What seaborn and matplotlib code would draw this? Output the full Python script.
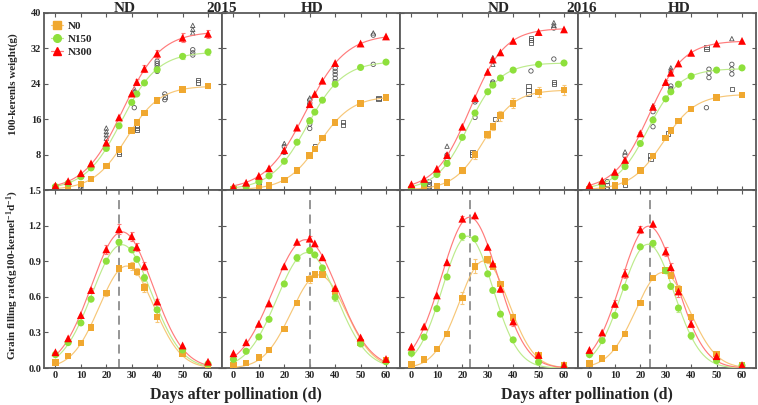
import numpy as np
import pandas as pd
import matplotlib
matplotlib.use("Agg")
import matplotlib.pyplot as plt
from matplotlib.lines import Line2D
import seaborn as sns

# ---------------- data ----------------
days = [0, 5, 10, 14, 20, 25, 30, 32, 35, 40, 50, 60]
treatments = ["N0", "N150", "N300"]
panel_keys = ["nd15", "hd15", "nd16", "hd16"]
years = ["2015", "2016"]

# 100-kernel weight (g)
kw_nd15_n0 = [0.3, 0.5, 1.35, 2.5, 5.4, 9.2, 13.5, 15.2, 17.4, 20.2, 22.7, 23.5]
kw_nd15_n150 = [0.75, 1.5, 3.0, 5.0, 9.4, 14.5, 19.8, 21.7, 24.2, 27.2, 30.2, 31.2]
kw_nd15_n300 = [1.0, 2.0, 3.8, 6.0, 10.7, 16.4, 21.8, 24.4, 27.4, 30.8, 34.4, 35.3]
kw_hd15_n0 = [0.15, 0.3, 0.5, 1.0, 2.3, 4.4, 7.8, 9.25, 11.8, 15.3, 19.6, 20.9]
kw_hd15_n150 = [0.3, 0.75, 1.9, 3.2, 6.5, 10.8, 15.6, 17.6, 20.3, 23.9, 27.7, 28.9]
kw_hd15_n300 = [0.75, 1.65, 3.2, 4.9, 9.0, 14.1, 19.4, 21.7, 24.7, 28.7, 33.1, 34.7]
kw_nd16_n0 = [0.2, 0.3, 0.9, 1.65, 4.4, 8.0, 12.6, 14.3, 16.8, 19.6, 22.1, 22.6]
kw_nd16_n150 = [0.4, 1.5, 3.5, 6.0, 11.9, 17.4, 22.2, 23.7, 25.3, 27.1, 28.4, 28.7]
kw_nd16_n300 = [1.3, 2.5, 4.8, 7.9, 14.3, 20.8, 26.7, 29.5, 31.1, 33.7, 35.7, 36.3]
kw_hd16_n0 = [0.15, 0.3, 1.0, 1.9, 4.4, 7.7, 11.8, 13.4, 15.6, 18.3, 20.9, 21.5]
kw_hd16_n150 = [0.3, 1.4, 3.0, 5.3, 10.5, 15.8, 20.6, 22.2, 23.9, 25.7, 27.1, 27.6]
kw_hd16_n300 = [1.1, 2.1, 4.1, 6.8, 12.8, 18.8, 24.4, 26.5, 28.6, 31.0, 33.1, 33.7]

# standard errors of the weight (visible error bars only)
kwe_nd15_n0 = [0, 0, 0, 0, 0, 0, 0, 0, 0, 0, 0.3, 0.4]
kwe_nd15_n150 = [0, 0, 0, 0, 0, 0, 0, 0, 0, 0, 0.6, 0.75]
kwe_nd15_n300 = [0, 0, 0, 0, 0, 0, 0.4, 0.6, 0.75, 0.9, 1.0, 0.9]
kwe_hd15_n0 = [0] * 12
kwe_hd15_n150 = [0] * 12
kwe_hd15_n300 = [0, 0, 0, 0, 0, 0, 0.4, 0, 0, 0, 0, 0]
kwe_nd16_n0 = [0, 0, 0, 0, 0.5, 0.9, 0.75, 0.75, 1.1, 1.1, 1.1, 1.1]
kwe_nd16_n150 = [0] * 12
kwe_nd16_n300 = [0] * 12
kwe_hd16_n0 = [0] * 12
kwe_hd16_n150 = [0] * 12
kwe_hd16_n300 = [0, 0, 0, 0, 0.4, 0.5, 0.5, 0.5, 0, 0, 0, 0]

# grain filling rate (g 100-kernel-1 d-1)
gr_nd15_n0 = [0.048, 0.10, 0.21, 0.34, 0.63, 0.84, 0.86, 0.81, 0.68, 0.43, 0.124, 0.025]
gr_nd15_n150 = [0.113, 0.214, 0.38, 0.58, 0.90, 1.06, 0.996, 0.916, 0.76, 0.49, 0.152, 0.034]
gr_nd15_n300 = [0.133, 0.25, 0.446, 0.657, 1.0, 1.17, 1.11, 1.02, 0.86, 0.56, 0.19, 0.053]
gr_hd15_n0 = [0.02, 0.042, 0.087, 0.152, 0.33, 0.547, 0.75, 0.79, 0.79, 0.645, 0.214, 0.062]
gr_hd15_n150 = [0.073, 0.141, 0.262, 0.41, 0.708, 0.928, 0.99, 0.953, 0.843, 0.595, 0.203, 0.053]
gr_hd15_n300 = [0.124, 0.217, 0.372, 0.544, 0.857, 1.063, 1.09, 1.05, 0.933, 0.674, 0.257, 0.076]
gr_nd16_n0 = [0.031, 0.073, 0.161, 0.285, 0.59, 0.857, 0.914, 0.857, 0.708, 0.426, 0.104, 0.02]
gr_nd16_n150 = [0.124, 0.26, 0.50, 0.767, 1.11, 1.089, 0.793, 0.654, 0.454, 0.237, 0.051, 0.006]
gr_nd16_n300 = [0.18, 0.35, 0.612, 0.891, 1.258, 1.286, 1.021, 0.88, 0.668, 0.392, 0.11, 0.025]
gr_hd16_n0 = [0.04, 0.082, 0.17, 0.285, 0.547, 0.759, 0.82, 0.778, 0.666, 0.429, 0.118, 0.025]
gr_hd16_n150 = [0.113, 0.231, 0.443, 0.68, 1.021, 1.05, 0.82, 0.688, 0.505, 0.271, 0.062, 0.02]
gr_hd16_n300 = [0.152, 0.299, 0.541, 0.795, 1.168, 1.215, 0.981, 0.849, 0.645, 0.372, 0.10, 0.025]

# standard errors of the rate (visible error bars only)
gre_nd15_n0 = [0, 0, 0, 0, 0.02, 0.02, 0.03, 0.03, 0.04, 0.04, 0.02, 0]
gre_nd15_n150 = [0, 0, 0, 0, 0, 0.02, 0.02, 0, 0.03, 0.02, 0, 0]
gre_nd15_n300 = [0, 0, 0, 0.02, 0.04, 0.04, 0.04, 0.03, 0.03, 0.02, 0, 0]
gre_hd15_n0 = [0, 0, 0, 0, 0, 0, 0.03, 0.02, 0, 0, 0, 0]
gre_hd15_n150 = [0, 0, 0, 0, 0, 0.03, 0, 0, 0, 0.03, 0.02, 0]
gre_hd15_n300 = [0, 0, 0, 0, 0, 0, 0.02, 0, 0, 0, 0, 0]
gre_nd16_n0 = [0, 0, 0, 0, 0.05, 0.06, 0.03, 0, 0, 0.03, 0, 0]
gre_nd16_n150 = [0, 0, 0, 0.02, 0.03, 0.02, 0, 0, 0, 0, 0, 0]
gre_nd16_n300 = [0, 0, 0, 0, 0.02, 0, 0, 0, 0.03, 0.04, 0, 0]
gre_hd16_n0 = [0, 0, 0, 0, 0, 0, 0, 0, 0.03, 0, 0, 0]
gre_hd16_n150 = [0, 0, 0, 0, 0, 0.03, 0.02, 0.02, 0.03, 0.03, 0, 0]
gre_hd16_n300 = [0, 0, 0.03, 0.04, 0.03, 0, 0.04, 0.04, 0.05, 0.03, 0, 0]

# day of maximum filling rate (dashed lines)
peak_days = [25, 30, 23, 24]

# individual (hollow) observations in the weight panels
obs_nd15_day = [10, 10, 10, 20, 20, 20, 20, 25, 25, 25, 31, 31, 31, 32, 32, 32,
                40, 40, 40, 40, 40, 43, 43, 43, 54, 54, 54, 54, 54, 54, 56, 56]
obs_nd15_val = [0.5, 0.9, 1.4, 14.0, 13.2, 12.5, 11.7, 9.2, 8.7, 8.2, 22.9, 22.3, 18.6, 14.7, 14.1, 13.5,
                29.1, 28.6, 28.1, 27.5, 26.8, 21.7, 21.1, 20.4, 37.2, 36.3, 35.5, 31.7, 31.0, 30.5, 24.8, 24.3]
obs_nd15_mk = ["o", "o", "s", "^", "^", "^", "^", "o", "s", "s", "^", "^", "o", "s", "s", "s",
               "o", "o", "o", "o", "o", "o", "s", "o", "^", "^", "^", "o", "o", "o", "s", "s"]
obs_hd15_day = [10, 10, 10, 20, 20, 20, 25, 30, 30, 30, 30, 30, 30, 32, 32,
                40, 40, 40, 40, 40, 43, 43, 55, 55, 55, 57, 57]
obs_hd15_val = [1.4, 0.9, 0.5, 10.5, 9.8, 8.5, 4.4, 20.8, 20.3, 19.5, 15.8, 14.9, 13.9, 9.8, 9.2,
                27.5, 26.8, 26.1, 25.3, 24.5, 15.3, 14.7, 35.5, 35.0, 28.4, 20.8, 20.5]
obs_hd15_mk = ["s", "o", "o", "^", "o", "o", "s", "^", "o", "o", "o", "o", "o", "s", "s",
               "o", "o", "o", "o", "o", "s", "s", "^", "o", "o", "s", "s"]
obs_nd16_day = [7, 7, 7, 7, 14, 14, 14, 24, 24, 25, 25, 25, 25, 32, 32, 32, 32, 32, 32, 33,
                46, 46, 46, 47, 47, 47, 47, 56, 56, 56, 56, 56, 56]
obs_nd16_val = [1.9, 1.3, 0.75, 0.2, 9.9, 7.9, 7.0, 8.6, 8.0, 20.3, 19.9, 17.4, 16.4, 24.4, 24.1, 23.7,
                29.9, 29.2, 28.4, 16.0, 23.5, 22.6, 21.7, 34.4, 33.9, 33.3, 26.9, 37.8, 37.2, 36.6,
                29.6, 24.4, 23.9]
obs_nd16_mk = ["o", "s", "o", "s", "^", "o", "o", "s", "s", "o", "o", "o", "o", "o", "o", "o",
               "^", "^", "^", "s", "s", "s", "s", "s", "s", "s", "o", "^", "^", "o", "o", "s", "s"]
obs_hd16_day = [7, 7, 7, 7, 14, 14, 14, 14, 14, 24, 24, 25, 25, 25, 25, 31, 32, 32, 32, 32, 32,
                46, 46, 46, 47, 47, 47, 56, 56, 56, 56, 56]
obs_hd16_val = [1.9, 1.1, 0.5, 0.1, 8.6, 7.7, 6.0, 5.3, 1.2, 7.8, 7.0, 19.0, 17.7, 16.0, 14.3, 12.8,
                27.6, 27.1, 23.5, 22.9, 22.6, 18.6, 32.3, 31.8, 27.3, 26.5, 25.4, 34.2, 28.4, 27.3,
                26.2, 22.8]
obs_hd16_mk = ["o", "s", "s", "o", "^", "o", "o", "o", "s", "s", "s", "^", "o", "o", "o", "s",
               "^", "^", "o", "o", "o", "o", "s", "s", "o", "o", "o", "^", "o", "o", "o", "s"]

kw = {"nd15": [kw_nd15_n0, kw_nd15_n150, kw_nd15_n300],
      "hd15": [kw_hd15_n0, kw_hd15_n150, kw_hd15_n300],
      "nd16": [kw_nd16_n0, kw_nd16_n150, kw_nd16_n300],
      "hd16": [kw_hd16_n0, kw_hd16_n150, kw_hd16_n300]}
kwe = {"nd15": [kwe_nd15_n0, kwe_nd15_n150, kwe_nd15_n300],
       "hd15": [kwe_hd15_n0, kwe_hd15_n150, kwe_hd15_n300],
       "nd16": [kwe_nd16_n0, kwe_nd16_n150, kwe_nd16_n300],
       "hd16": [kwe_hd16_n0, kwe_hd16_n150, kwe_hd16_n300]}
gr = {"nd15": [gr_nd15_n0, gr_nd15_n150, gr_nd15_n300],
      "hd15": [gr_hd15_n0, gr_hd15_n150, gr_hd15_n300],
      "nd16": [gr_nd16_n0, gr_nd16_n150, gr_nd16_n300],
      "hd16": [gr_hd16_n0, gr_hd16_n150, gr_hd16_n300]}
gre = {"nd15": [gre_nd15_n0, gre_nd15_n150, gre_nd15_n300],
       "hd15": [gre_hd15_n0, gre_hd15_n150, gre_hd15_n300],
       "nd16": [gre_nd16_n0, gre_nd16_n150, gre_nd16_n300],
       "hd16": [gre_hd16_n0, gre_hd16_n150, gre_hd16_n300]}
obs = {"nd15": (obs_nd15_day, obs_nd15_val, obs_nd15_mk),
       "hd15": (obs_hd15_day, obs_hd15_val, obs_hd15_mk),
       "nd16": (obs_nd16_day, obs_nd16_val, obs_nd16_mk),
       "hd16": (obs_hd16_day, obs_hd16_val, obs_hd16_mk)}

# ---------------- styles ----------------
pt_colors = {"N0": "#F0A830", "N150": "#8EE03C", "N300": "#FF0000"}
ln_colors = {"N0": "#F7C778", "N150": "#BDEB8C", "N300": "#FF7B7B"}
markers = {"N0": "s", "N150": "o", "N300": "^"}
sizes = {"N0": 22, "N150": 26, "N300": 32}
SERIF = "Liberation Serif"
SPINE = "#5a5a5a"


# ---------------- fits ----------------
def logistic_fit(t, w, tt):
    t = np.asarray(t, float)
    w = np.asarray(w, float)
    A = np.linspace(w.max() * 0.98, w.max() * 1.25, 40)[:, None, None, None]
    t0 = np.linspace(10, 45, 106)[None, :, None, None]
    k = np.linspace(0.05, 0.40, 106)[None, None, :, None]
    pred = A / (1 + np.exp(-k * (t - t0)))
    sse = ((pred - w) ** 2).sum(-1)
    i, j, l = np.unravel_index(sse.argmin(), sse.shape)
    a, c, kk = A[i, 0, 0, 0], t0[0, j, 0, 0], k[0, 0, l, 0]
    return a / (1 + np.exp(-kk * (tt - c)))


def gauss_fit(t, r, tt):
    t = np.asarray(t, float)
    r = np.asarray(r, float)
    c2, c1, c0 = np.polyfit(t, np.log(r), 2, w=r)
    return np.exp(c0 + c1 * tt + c2 * tt ** 2)


tt = np.linspace(0, 60, 241)

# ---------------- figure ----------------
sns.set_style("ticks")
plt.rcParams["font.family"] = [SERIF, "DejaVu Serif"]
plt.rcParams["font.weight"] = "bold"
plt.rcParams["axes.labelweight"] = "bold"
plt.rcParams["mathtext.fontset"] = "custom"
plt.rcParams["mathtext.rm"] = SERIF + ":bold"
plt.rcParams["mathtext.bf"] = SERIF + ":bold"
plt.rcParams["mathtext.it"] = SERIF + ":bold"
plt.rcParams["mathtext.default"] = "bf"

W, H = 758, 405
fig = plt.figure(figsize=(W / 100, H / 100), dpi=100)


def rect(x0, y0, x1, y1):
    return [x0 / W, 1 - y1 / H, (x1 - x0) / W, (y1 - y0) / H]


lefts = [44, 222, 400, 578]
cw = 178

for c, key in enumerate(panel_keys):
    ax_t = fig.add_axes(rect(lefts[c], 13, lefts[c] + cw, 190))
    ax_b = fig.add_axes(rect(lefts[c], 190, lefts[c] + cw, 368))

    trcol = [tr for tr in treatments for _ in days]
    top_df = pd.DataFrame({"day": days * 3, "value": sum(kw[key], []),
                           "err": sum(kwe[key], []), "treatment": trcol})
    bot_df = pd.DataFrame({"day": days * 3, "value": sum(gr[key], []),
                           "err": sum(gre[key], []), "treatment": trcol})
    top_fit = pd.DataFrame({
        "day": np.tile(tt, 3),
        "value": np.concatenate([logistic_fit(days, v, tt) for v in kw[key]]),
        "treatment": np.repeat(treatments, len(tt))})
    bot_fit = pd.DataFrame({
        "day": np.tile(tt, 3),
        "value": np.concatenate([gauss_fit(days, v, tt) for v in gr[key]]),
        "treatment": np.repeat(treatments, len(tt))})

    # hollow observations
    od, ov, om = obs[key]
    odf = pd.DataFrame({"day": od, "value": ov, "mk": om})
    for m, sub in odf.groupby("mk"):
        ax_t.scatter(sub["day"], sub["value"], marker=m, s=10, facecolors="none",
                     edgecolors="#555555", linewidths=0.6, zorder=2)

    for ax, fit, pts in ((ax_t, top_fit, top_df), (ax_b, bot_fit, bot_df)):
        sns.lineplot(data=fit, x="day", y="value", hue="treatment", palette=ln_colors,
                     estimator=None, linewidth=0.85, legend=False, ax=ax, zorder=3)
        for tr in treatments:
            sub = pts[(pts["treatment"] == tr) & (pts["err"] > 0)]
            ax.errorbar(sub["day"], sub["value"], yerr=sub["err"], fmt="none",
                        ecolor=ln_colors[tr], elinewidth=0.8, capsize=1.6, capthick=0.8, zorder=3.5)
        for tr in treatments:
            sub = pts[pts["treatment"] == tr]
            sns.scatterplot(data=sub, x="day", y="value", color=pt_colors[tr],
                            marker=markers[tr], s=sizes[tr], edgecolor="none",
                            legend=False, ax=ax, zorder=4)

    ax_b.axvline(peak_days[c], color="#8c8c8c", linestyle=(0, (5, 3)), linewidth=1.3, zorder=1)

    for ax in (ax_t, ax_b):
        ax.set_xlim(-4.5, 65.5)
        ax.set_xticks([0, 10, 20, 30, 40, 50, 60])
        ax.set_xlabel("")
        ax.set_ylabel("")
        ax.tick_params(direction="in", top=True, right=True, length=3, width=0.8,
                       color=SPINE, labelsize=7.5, pad=2)
        for s in ax.spines.values():
            s.set_color(SPINE)
            s.set_linewidth(1.3)

    ax_t.set_ylim(0, 40)
    ax_t.set_yticks([0, 8, 16, 24, 32, 40])
    ax_t.tick_params(labelbottom=False)
    ax_b.set_ylim(0, 1.5)
    ax_b.set_yticks([0.0, 0.3, 0.6, 0.9, 1.2, 1.5])
    if c == 0:
        ax_t.set_yticklabels(["", "8", "16", "24", "32", "40"], fontweight="bold")
        ax_b.set_yticklabels(["0.0", "0.3", "0.6", "0.9", "1.2", "1.5"], fontweight="bold")
        handles = [Line2D([], [], color=ln_colors[tr], linewidth=0.9, marker=markers[tr],
                          markerfacecolor=pt_colors[tr], markeredgecolor=pt_colors[tr],
                          markersize=5.5, label=tr) for tr in treatments]
        ax_t.legend(handles=handles, loc="upper left", bbox_to_anchor=(-0.005, 1.0),
                    frameon=False, handlelength=1.1, handletextpad=0.45, labelspacing=0.3,
                    borderaxespad=0.3,
                    prop={"family": SERIF, "weight": "bold", "size": 8})
    else:
        ax_t.tick_params(labelleft=False)
        ax_b.tick_params(labelleft=False)
    ax_b.set_xticklabels([str(d) for d in [0, 10, 20, 30, 40, 50, 60]], fontweight="bold")


def ftext(x, y, s, va="center", **kw_):
    fig.text(x / W, 1 - y / H, s, ha="center", va=va, family=SERIF,
             fontweight="bold", **kw_)


for x, s in [(125, "ND"), (222, years[0]), (312, "HD"), (499, "ND"), (582, years[1]), (679, "HD")]:
    ftext(x, 12, s, va="baseline", fontsize=11)
ftext(13, 84, "100-kerenls weight(g)", fontsize=8, rotation=90)
ftext(13, 275, r"Grain filling rate(g100-kernel$^{-1}$d$^{-1}$)", fontsize=8, rotation=90)
ftext(236, 395, "Days after pollination (d)", fontsize=11.5)
ftext(587, 395, "Days after pollination (d)", fontsize=11.5)

fig.savefig("out.png", dpi=100)
